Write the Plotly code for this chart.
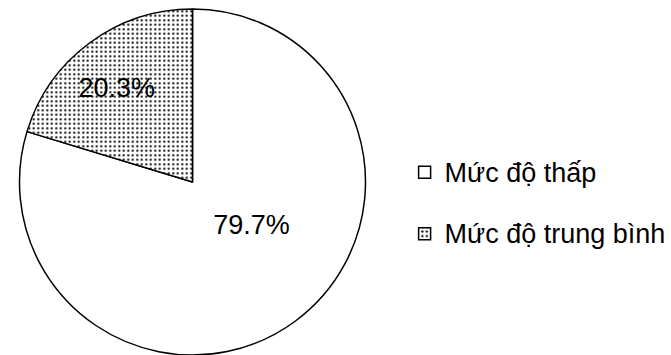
import plotly.graph_objects as go

labels = ["Mức độ thấp", "Mức độ trung bình"]
values = [79.7, 20.3]
text_labels = ["79.7%", "20.3%"]

# visual nudges for label placement (style only)
label_shift = ["&nbsp;&nbsp;<span style='baseline-shift:52px'>{}</span>",
               "<span style='baseline-shift:14px'>{}</span>&nbsp;&nbsp;&nbsp;"]

fig = go.Figure()
fig.add_trace(go.Pie(
    labels=[f"<span style='font-size:27px;baseline-shift:8px'>{l}</span>" for l in labels],
    values=values,
    text=[fmt.format(t) for fmt, t in zip(label_shift, text_labels)],
    textinfo="text",
    textposition="inside",
    insidetextorientation="horizontal",
    textfont=dict(family="Liberation Sans, Arial", size=27, color="black"),
    sort=False,
    direction="clockwise",
    rotation=0,
    marker=dict(
        colors=["white", "white"],
        line=dict(color="black", width=1.5),
        pattern=dict(shape=["", "."], fgcolor="black", bgcolor="white", size=4.5, solidity=0.18),
    ),
    domain=dict(x=[19.5/671, 365.5/671], y=[0, 1 - 9/355]),
    hoverinfo="skip",
))

fig.update_layout(
    width=671, height=355,
    margin=dict(l=0, r=0, t=0, b=0),
    paper_bgcolor="white", plot_bgcolor="white",
    font=dict(family="Liberation Sans, Arial", color="black"),
    legend=dict(x=0.603, y=0.428, xanchor="left", yanchor="middle",
                font=dict(size=45, family="Liberation Sans, Arial"),
                itemwidth=30),
    showlegend=True,
)
fig.write_html("out.html")
